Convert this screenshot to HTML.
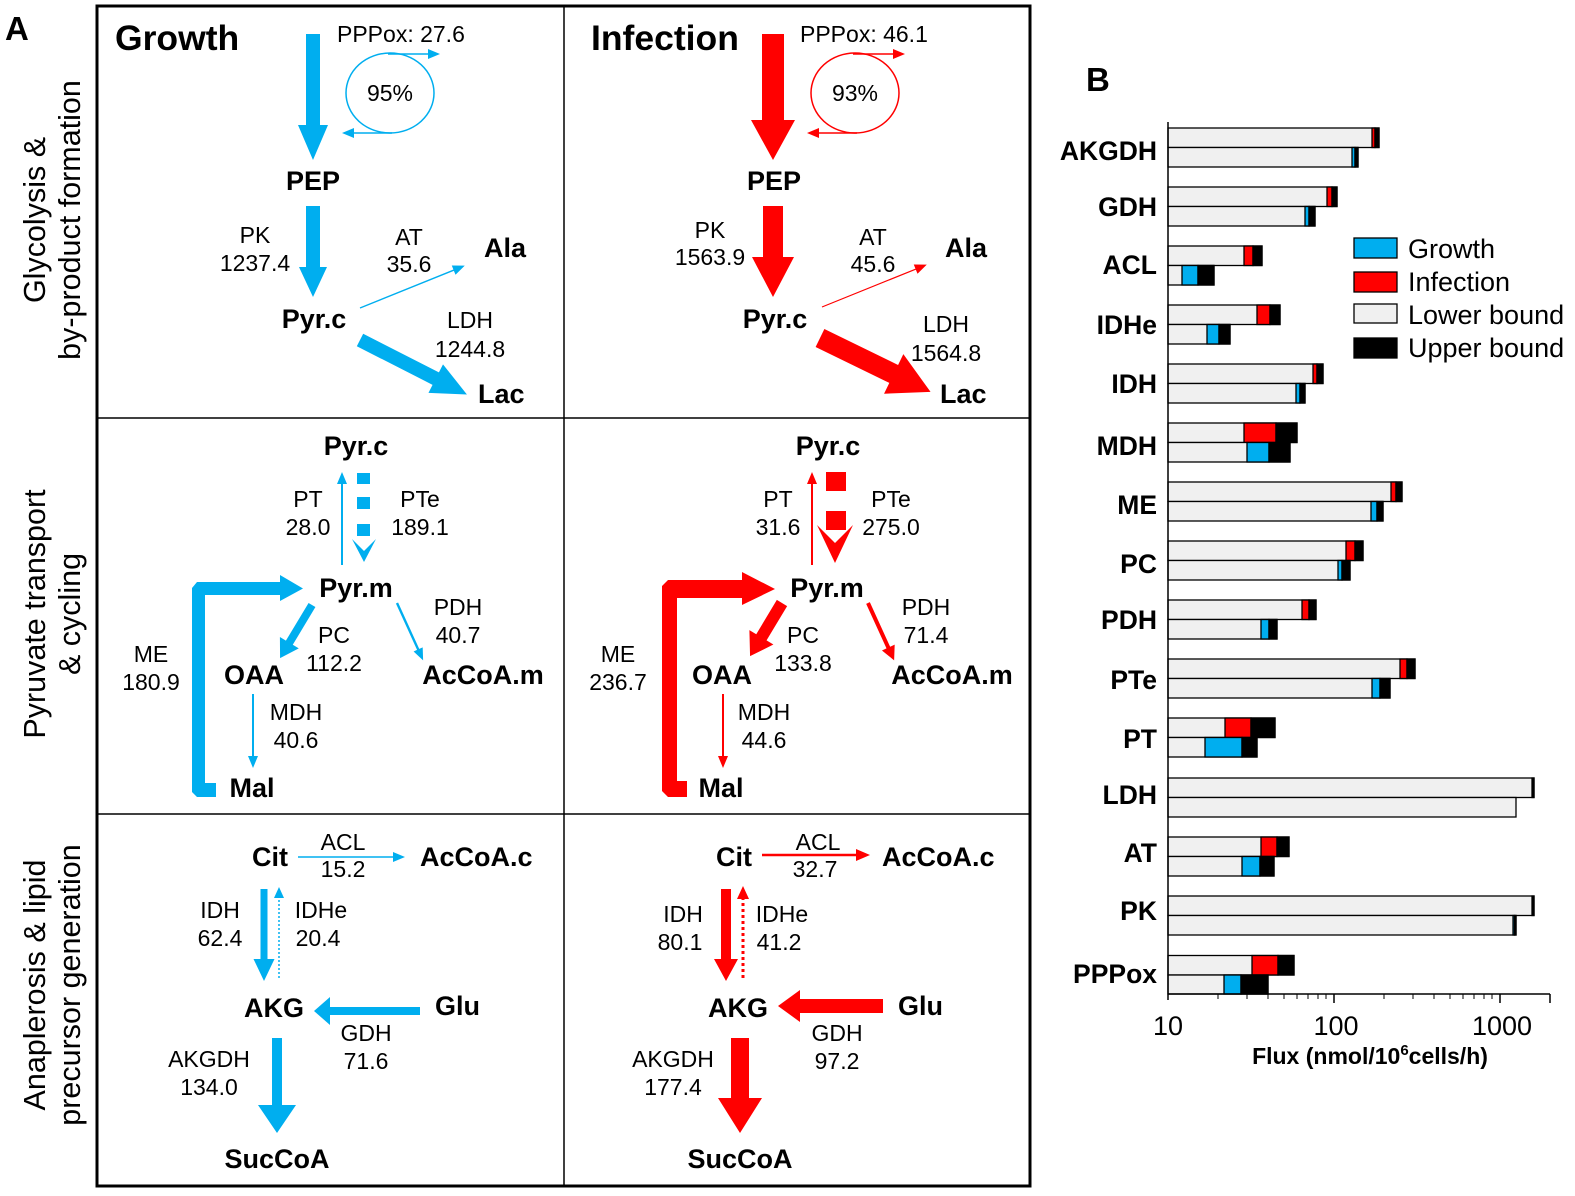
<!DOCTYPE html>
<html><head><meta charset="utf-8"><style>
html,body{margin:0;padding:0;background:#fff;}
svg{display:block;font-family:"Liberation Sans",Arial,sans-serif;}
.b{font-weight:bold;font-size:27px;}
.n{font-size:23px;}
.m{text-anchor:middle;}
</style></head><body>
<svg width="1575" height="1196" viewBox="0 0 1575 1196" xmlns="http://www.w3.org/2000/svg">
<!-- Panel A frame -->
<rect x="97" y="6" width="933" height="1180" fill="none" stroke="#000" stroke-width="3"/>
<line x1="564" y1="6" x2="564" y2="1186" stroke="#000" stroke-width="1.5"/>
<line x1="97" y1="418" x2="1030" y2="418" stroke="#000" stroke-width="1.5"/>
<line x1="97" y1="814" x2="1030" y2="814" stroke="#000" stroke-width="1.5"/>
<text x="5" y="40" font-size="33" font-weight="bold">A</text>
<text x="1086" y="91" font-size="33" font-weight="bold">B</text>
<g font-size="30.5" text-anchor="middle">
<text transform="translate(45,220) rotate(-90)">Glycolysis &amp;</text>
<text transform="translate(80,220) rotate(-90)">by-product formation</text>
<text transform="translate(45,614) rotate(-90)">Pyruvate transport</text>
<text transform="translate(80,614) rotate(-90)">&amp; cycling</text>
<text transform="translate(45,985) rotate(-90)">Anaplerosis &amp; lipid</text>
<text transform="translate(80,985) rotate(-90)">precursor generation</text>
</g>

<!-- ================= GROWTH ================= -->
<g fill="#00aeef">
<text x="115" y="50" font-size="35.5" font-weight="bold" fill="#000">Growth</text>
<g transform="translate(313,34) rotate(90)"><polygon points="0,-7 91,-7 91,-15 126,0 91,15 91,7 0,7"/></g>
<g transform="translate(313,206) rotate(90)"><polygon points="0,-7 61,-7 61,-14 91,0 61,14 61,7 0,7"/></g>
<g transform="translate(360,308) rotate(-22)"><polygon points="0,-0.7 101,-0.7 101,-5 113,0 101,5 101,0.7 0,0.7"/></g>
<g transform="translate(360,340) rotate(27)"><polygon points="0,-7 85,-7 85,-16 120,0 85,16 85,7 0,7"/></g>
<ellipse cx="390" cy="93" rx="44" ry="40" fill="none" stroke="#00aeef" stroke-width="1.5"/>
<g transform="translate(388,54) rotate(0)"><polygon points="0,-0.8 40,-0.8 40,-5 52,0 40,5 40,0.8 0,0.8"/></g>
<g transform="translate(392,133) rotate(180)"><polygon points="0,-0.8 38,-0.8 38,-5 50,0 38,5 38,0.8 0,0.8"/></g>
<g transform="translate(342,565) rotate(-90)"><polygon points="0,-1 81,-1 81,-5 93,0 81,5 81,1 0,1"/></g>
<rect x="357" y="473" width="13" height="11"/><rect x="357" y="497" width="13" height="12"/><rect x="357" y="524" width="13" height="12"/>
<polygon points="352,539 364,551 376,539 364,562"/>
<polygon points="192,588 197,582 280,582 280,575 303,588.5 280,601 280,595 205,595 205,783 216,783 216,797 197,797 192,792"/>
<g transform="translate(312,605) rotate(121)"><polygon points="0,-4 44,-4 44,-11 62,0 44,11 44,4 0,4"/></g>
<g transform="translate(397,603) rotate(65.5)"><polygon points="0,-1.2 51,-1.2 51,-5 63,0 51,5 51,1.2 0,1.2"/></g>
<g transform="translate(253,694) rotate(90)"><polygon points="0,-1 62,-1 62,-5 74,0 62,5 62,1 0,1"/></g>
<g transform="translate(298,857) rotate(0)"><polygon points="0,-0.8 95,-0.8 95,-5 107,0 95,5 95,0.8 0,0.8"/></g>
<g transform="translate(264,889) rotate(90)"><polygon points="0,-3.5 70,-3.5 70,-10.5 92,0 70,10.5 70,3.5 0,3.5"/></g>
<line x1="279" y1="978" x2="279" y2="896" stroke="#00aeef" stroke-width="1.5" stroke-dasharray="2,2"/>
<polygon points="274,898 279,887 284,898"/>
<g transform="translate(420,1011) rotate(180)"><polygon points="0,-4 90,-4 90,-14 106,0 90,14 90,4 0,4"/></g>
<g transform="translate(277,1038) rotate(90)"><polygon points="0,-5 67,-5 67,-19 95,0 67,19 67,5 0,5"/></g>
</g>
<g fill="#000">
<text x="337" y="42" class="n">PPPox: 27.6</text>
<text x="390" y="101" class="n m">95%</text>
<text x="313" y="190" class="b m">PEP</text>
<text x="255" y="243" class="n m">PK</text><text x="255" y="271" class="n m">1237.4</text>
<text x="409" y="245" class="n m">AT</text><text x="409" y="272" class="n m">35.6</text>
<text x="484" y="257" class="b">Ala</text>
<text x="314" y="328" class="b m">Pyr.c</text>
<text x="470" y="328" class="n m">LDH</text><text x="470" y="357" class="n m">1244.8</text>
<text x="478" y="403" class="b">Lac</text>
<text x="356" y="455" class="b m">Pyr.c</text>
<text x="308" y="507" class="n m">PT</text><text x="308" y="535" class="n m">28.0</text>
<text x="420" y="507" class="n m">PTe</text><text x="420" y="535" class="n m">189.1</text>
<text x="356" y="597" class="b m">Pyr.m</text>
<text x="151" y="662" class="n m">ME</text><text x="151" y="690" class="n m">180.9</text>
<text x="334" y="643" class="n m">PC</text><text x="334" y="671" class="n m">112.2</text>
<text x="254" y="684" class="b m">OAA</text>
<text x="458" y="615" class="n m">PDH</text><text x="458" y="643" class="n m">40.7</text>
<text x="483" y="684" class="b m">AcCoA.m</text>
<text x="296" y="720" class="n m">MDH</text><text x="296" y="748" class="n m">40.6</text>
<text x="252" y="797" class="b m">Mal</text>
<text x="270" y="866" class="b m">Cit</text>
<text x="343" y="850" class="n m">ACL</text><text x="343" y="877" class="n m">15.2</text>
<text x="420" y="866" class="b">AcCoA.c</text>
<text x="220" y="918" class="n m">IDH</text><text x="220" y="946" class="n m">62.4</text>
<text x="321" y="918" class="n m">IDHe</text><text x="318" y="946" class="n m">20.4</text>
<text x="274" y="1017" class="b m">AKG</text>
<text x="435" y="1015" class="b">Glu</text>
<text x="366" y="1041" class="n m">GDH</text><text x="366" y="1069" class="n m">71.6</text>
<text x="209" y="1067" class="n m">AKGDH</text><text x="209" y="1095" class="n m">134.0</text>
<text x="277" y="1168" class="b m">SucCoA</text>
</g>

<!-- ================= INFECTION ================= -->
<g fill="#ff0000">
<text x="591" y="50" font-size="35.5" font-weight="bold" fill="#000">Infection</text>
<g transform="translate(773,34) rotate(90)"><polygon points="0,-11 86,-11 86,-22 126,0 86,22 86,11 0,11"/></g>
<g transform="translate(773,206) rotate(90)"><polygon points="0,-10 51,-10 51,-21 91,0 51,21 51,10 0,10"/></g>
<g transform="translate(822,307) rotate(-22)"><polygon points="0,-0.6 101,-0.6 101,-5 113,0 101,5 101,0.6 0,0.6"/></g>
<g transform="translate(820,338) rotate(26)"><polygon points="0,-10 82,-10 82,-22 123,0 82,22 82,10 0,10"/></g>
<ellipse cx="855" cy="93" rx="44" ry="40" fill="none" stroke="#ff0000" stroke-width="1.5"/>
<g transform="translate(853,54) rotate(0)"><polygon points="0,-0.8 40,-0.8 40,-5 52,0 40,5 40,0.8 0,0.8"/></g>
<g transform="translate(857,133) rotate(180)"><polygon points="0,-0.8 38,-0.8 38,-5 50,0 38,5 38,0.8 0,0.8"/></g>
<g transform="translate(812,565) rotate(-90)"><polygon points="0,-1 81,-1 81,-5 93,0 81,5 81,1 0,1"/></g>
<rect x="826" y="472" width="20" height="19"/><rect x="826" y="511" width="20" height="19"/>
<polygon points="817,525 835,543 853,525 835,563"/>
<polygon points="662,586 668,580 742,580 742,572 775,589 742,605 742,598 677,598 677,781 687,781 687,797 668,797 662,791"/>
<g transform="translate(782,603) rotate(121)"><polygon points="0,-6 40,-6 40,-14 62,0 40,14 40,6 0,6"/></g>
<g transform="translate(868,603) rotate(65.5)"><polygon points="0,-2 49,-2 49,-7 63,0 49,7 49,2 0,2"/></g>
<g transform="translate(723,694) rotate(90)"><polygon points="0,-1 62,-1 62,-5 74,0 62,5 62,1 0,1"/></g>
<g transform="translate(762,855) rotate(0)"><polygon points="0,-1.3 94,-1.3 94,-6 108,0 94,6 94,1.3 0,1.3"/></g>
<g transform="translate(726,889) rotate(90)"><polygon points="0,-5 70,-5 70,-12 92,0 70,12 70,5 0,5"/></g>
<line x1="743" y1="978" x2="743" y2="898" stroke="#ff0000" stroke-width="3" stroke-dasharray="3,3"/>
<polygon points="737,899 743,886 749,899"/>
<g transform="translate(883,1006) rotate(180)"><polygon points="0,-7 83,-7 83,-16 105,0 83,16 83,7 0,7"/></g>
<g transform="translate(740,1038) rotate(90)"><polygon points="0,-9 60,-9 60,-22 95,0 60,22 60,9 0,9"/></g>
</g>
<g fill="#000">
<text x="800" y="42" class="n">PPPox: 46.1</text>
<text x="855" y="101" class="n m">93%</text>
<text x="774" y="190" class="b m">PEP</text>
<text x="710" y="238" class="n m">PK</text><text x="710" y="265" class="n m">1563.9</text>
<text x="873" y="245" class="n m">AT</text><text x="873" y="272" class="n m">45.6</text>
<text x="945" y="257" class="b">Ala</text>
<text x="775" y="328" class="b m">Pyr.c</text>
<text x="946" y="332" class="n m">LDH</text><text x="946" y="361" class="n m">1564.8</text>
<text x="940" y="403" class="b">Lac</text>
<text x="828" y="455" class="b m">Pyr.c</text>
<text x="778" y="507" class="n m">PT</text><text x="778" y="535" class="n m">31.6</text>
<text x="891" y="507" class="n m">PTe</text><text x="891" y="535" class="n m">275.0</text>
<text x="827" y="597" class="b m">Pyr.m</text>
<text x="618" y="662" class="n m">ME</text><text x="618" y="690" class="n m">236.7</text>
<text x="803" y="643" class="n m">PC</text><text x="803" y="671" class="n m">133.8</text>
<text x="722" y="684" class="b m">OAA</text>
<text x="926" y="615" class="n m">PDH</text><text x="926" y="643" class="n m">71.4</text>
<text x="952" y="684" class="b m">AcCoA.m</text>
<text x="764" y="720" class="n m">MDH</text><text x="764" y="748" class="n m">44.6</text>
<text x="721" y="797" class="b m">Mal</text>
<text x="734" y="866" class="b m">Cit</text>
<text x="818" y="850" class="n m">ACL</text><text x="815" y="877" class="n m">32.7</text>
<text x="882" y="866" class="b">AcCoA.c</text>
<text x="683" y="922" class="n m">IDH</text><text x="680" y="950" class="n m">80.1</text>
<text x="782" y="922" class="n m">IDHe</text><text x="779" y="950" class="n m">41.2</text>
<text x="738" y="1017" class="b m">AKG</text>
<text x="898" y="1015" class="b">Glu</text>
<text x="837" y="1041" class="n m">GDH</text><text x="837" y="1069" class="n m">97.2</text>
<text x="673" y="1067" class="n m">AKGDH</text><text x="673" y="1095" class="n m">177.4</text>
<text x="740" y="1168" class="b m">SucCoA</text>
</g>

<!-- ================= PANEL B ================= -->
<g stroke="#000" stroke-width="1.3">
<rect x="1168" y="128" width="211" height="19.5" fill="#f0f0f0"/><rect x="1372" y="128" width="3" height="19.5" fill="#f00"/><rect x="1375" y="128" width="4" height="19.5" fill="#000"/>
<rect x="1168" y="147.5" width="190" height="19.5" fill="#f0f0f0"/><rect x="1352" y="147.5" width="3" height="19.5" fill="#00aeef"/><rect x="1355" y="147.5" width="3" height="19.5" fill="#000"/>
<rect x="1168" y="187" width="169" height="19.5" fill="#f0f0f0"/><rect x="1327" y="187" width="5" height="19.5" fill="#f00"/><rect x="1332" y="187" width="5" height="19.5" fill="#000"/>
<rect x="1168" y="206.5" width="147" height="19.5" fill="#f0f0f0"/><rect x="1305" y="206.5" width="4" height="19.5" fill="#00aeef"/><rect x="1309" y="206.5" width="6" height="19.5" fill="#000"/>
<rect x="1168" y="246" width="94" height="19.5" fill="#f0f0f0"/><rect x="1244" y="246" width="9" height="19.5" fill="#f00"/><rect x="1253" y="246" width="9" height="19.5" fill="#000"/>
<rect x="1168" y="265.5" width="46" height="19.5" fill="#f0f0f0"/><rect x="1182" y="265.5" width="16" height="19.5" fill="#00aeef"/><rect x="1198" y="265.5" width="16" height="19.5" fill="#000"/>
<rect x="1168" y="305" width="112" height="19.5" fill="#f0f0f0"/><rect x="1257" y="305" width="13" height="19.5" fill="#f00"/><rect x="1270" y="305" width="10" height="19.5" fill="#000"/>
<rect x="1168" y="324.5" width="62" height="19.5" fill="#f0f0f0"/><rect x="1207" y="324.5" width="12" height="19.5" fill="#00aeef"/><rect x="1219" y="324.5" width="11" height="19.5" fill="#000"/>
<rect x="1168" y="364" width="155" height="19.5" fill="#f0f0f0"/><rect x="1313" y="364" width="4" height="19.5" fill="#f00"/><rect x="1317" y="364" width="6" height="19.5" fill="#000"/>
<rect x="1168" y="383.5" width="137" height="19.5" fill="#f0f0f0"/><rect x="1296" y="383.5" width="4" height="19.5" fill="#00aeef"/><rect x="1300" y="383.5" width="5" height="19.5" fill="#000"/>
<rect x="1168" y="423" width="129" height="19.5" fill="#f0f0f0"/><rect x="1244" y="423" width="32" height="19.5" fill="#f00"/><rect x="1276" y="423" width="21" height="19.5" fill="#000"/>
<rect x="1168" y="442.5" width="122" height="19.5" fill="#f0f0f0"/><rect x="1247" y="442.5" width="22" height="19.5" fill="#00aeef"/><rect x="1269" y="442.5" width="21" height="19.5" fill="#000"/>
<rect x="1168" y="482" width="234" height="19.5" fill="#f0f0f0"/><rect x="1391" y="482" width="5" height="19.5" fill="#f00"/><rect x="1396" y="482" width="6" height="19.5" fill="#000"/>
<rect x="1168" y="501.5" width="215" height="19.5" fill="#f0f0f0"/><rect x="1371" y="501.5" width="6" height="19.5" fill="#00aeef"/><rect x="1377" y="501.5" width="6" height="19.5" fill="#000"/>
<rect x="1168" y="541" width="195" height="19.5" fill="#f0f0f0"/><rect x="1346" y="541" width="9" height="19.5" fill="#f00"/><rect x="1355" y="541" width="8" height="19.5" fill="#000"/>
<rect x="1168" y="560.5" width="182" height="19.5" fill="#f0f0f0"/><rect x="1338" y="560.5" width="4" height="19.5" fill="#00aeef"/><rect x="1342" y="560.5" width="8" height="19.5" fill="#000"/>
<rect x="1168" y="600" width="148" height="19.5" fill="#f0f0f0"/><rect x="1302" y="600" width="7" height="19.5" fill="#f00"/><rect x="1309" y="600" width="7" height="19.5" fill="#000"/>
<rect x="1168" y="619.5" width="109" height="19.5" fill="#f0f0f0"/><rect x="1261" y="619.5" width="8" height="19.5" fill="#00aeef"/><rect x="1269" y="619.5" width="8" height="19.5" fill="#000"/>
<rect x="1168" y="659" width="247" height="19.5" fill="#f0f0f0"/><rect x="1400" y="659" width="7" height="19.5" fill="#f00"/><rect x="1407" y="659" width="8" height="19.5" fill="#000"/>
<rect x="1168" y="678.5" width="222" height="19.5" fill="#f0f0f0"/><rect x="1372" y="678.5" width="8" height="19.5" fill="#00aeef"/><rect x="1380" y="678.5" width="10" height="19.5" fill="#000"/>
<rect x="1168" y="718" width="107" height="19.5" fill="#f0f0f0"/><rect x="1225" y="718" width="26" height="19.5" fill="#f00"/><rect x="1251" y="718" width="24" height="19.5" fill="#000"/>
<rect x="1168" y="737.5" width="89" height="19.5" fill="#f0f0f0"/><rect x="1205" y="737.5" width="37" height="19.5" fill="#00aeef"/><rect x="1242" y="737.5" width="15" height="19.5" fill="#000"/>
<rect x="1168" y="778" width="366" height="19.5" fill="#f0f0f0"/><rect x="1532" y="778" width="2" height="19.5" fill="#000"/>
<rect x="1168" y="797.5" width="348" height="19.5" fill="#f0f0f0"/>
<rect x="1168" y="837" width="121" height="19.5" fill="#f0f0f0"/><rect x="1261" y="837" width="16" height="19.5" fill="#f00"/><rect x="1277" y="837" width="12" height="19.5" fill="#000"/>
<rect x="1168" y="856.5" width="106" height="19.5" fill="#f0f0f0"/><rect x="1242" y="856.5" width="18" height="19.5" fill="#00aeef"/><rect x="1260" y="856.5" width="14" height="19.5" fill="#000"/>
<rect x="1168" y="896" width="366" height="19.5" fill="#f0f0f0"/><rect x="1532" y="896" width="2" height="19.5" fill="#000"/>
<rect x="1168" y="915.5" width="348" height="19.5" fill="#f0f0f0"/><rect x="1513" y="915.5" width="1.5" height="19.5" fill="#00aeef"/><rect x="1514.5" y="915.5" width="1.5" height="19.5" fill="#000"/>
<rect x="1168" y="955.5" width="126" height="19.5" fill="#f0f0f0"/><rect x="1252" y="955.5" width="26" height="19.5" fill="#f00"/><rect x="1278" y="955.5" width="16" height="19.5" fill="#000"/>
<rect x="1168" y="975" width="100" height="19" fill="#f0f0f0"/><rect x="1224" y="975" width="17" height="19" fill="#00aeef"/><rect x="1241" y="975" width="27" height="19" fill="#000"/>
<rect x="1354" y="238" width="43" height="20" fill="#00aeef"/>
<rect x="1354" y="272" width="43" height="20" fill="#f00"/>
<rect x="1354" y="304" width="43" height="19" fill="#f0f0f0"/>
<rect x="1354" y="338" width="43" height="20" fill="#000"/>
</g>
<g font-size="27">
<text x="1408" y="258">Growth</text>
<text x="1408" y="291">Infection</text>
<text x="1408" y="324">Lower bound</text>
<text x="1408" y="357">Upper bound</text>
</g>
<g stroke="#000" stroke-width="1.5">
<line x1="1168" y1="122" x2="1168" y2="1000"/>
<line x1="1168" y1="994" x2="1550" y2="994"/>
<line x1="1334" y1="994" x2="1334" y2="1003"/>
<line x1="1500" y1="994" x2="1500" y2="1003"/>
<line x1="1550" y1="994" x2="1550" y2="1003"/>
</g>
<g stroke="#000" stroke-width="1">
<line x1="1218" y1="994" x2="1218" y2="999"/><line x1="1247" y1="994" x2="1247" y2="999"/><line x1="1268" y1="994" x2="1268" y2="999"/><line x1="1284" y1="994" x2="1284" y2="999"/><line x1="1297" y1="994" x2="1297" y2="999"/><line x1="1308" y1="994" x2="1308" y2="999"/><line x1="1318" y1="994" x2="1318" y2="999"/><line x1="1326" y1="994" x2="1326" y2="999"/>
<line x1="1384" y1="994" x2="1384" y2="999"/><line x1="1413" y1="994" x2="1413" y2="999"/><line x1="1434" y1="994" x2="1434" y2="999"/><line x1="1450" y1="994" x2="1450" y2="999"/><line x1="1463" y1="994" x2="1463" y2="999"/><line x1="1474" y1="994" x2="1474" y2="999"/><line x1="1484" y1="994" x2="1484" y2="999"/><line x1="1492" y1="994" x2="1492" y2="999"/>
</g>
<g font-size="27" text-anchor="middle">
<text x="1168" y="1035">10</text>
<text x="1336" y="1035">100</text>
<text x="1502" y="1035">1000</text>
</g>
<text x="1370" y="1064" font-size="23" font-weight="bold" text-anchor="middle">Flux (nmol/10<tspan font-size="15" dy="-9">6</tspan><tspan dy="9">cells/h)</tspan></text>
<g text-anchor="end" font-size="26.5" font-weight="bold">
<text x="1157" y="160">AKGDH</text>
<text x="1157" y="216">GDH</text>
<text x="1157" y="274">ACL</text>
<text x="1157" y="334">IDHe</text>
<text x="1157" y="393">IDH</text>
<text x="1157" y="455">MDH</text>
<text x="1157" y="514">ME</text>
<text x="1157" y="573">PC</text>
<text x="1157" y="629">PDH</text>
<text x="1157" y="689">PTe</text>
<text x="1157" y="748">PT</text>
<text x="1157" y="804">LDH</text>
<text x="1157" y="862">AT</text>
<text x="1157" y="920">PK</text>
<text x="1157" y="983">PPPox</text>
</g>
</svg>
</body></html>
